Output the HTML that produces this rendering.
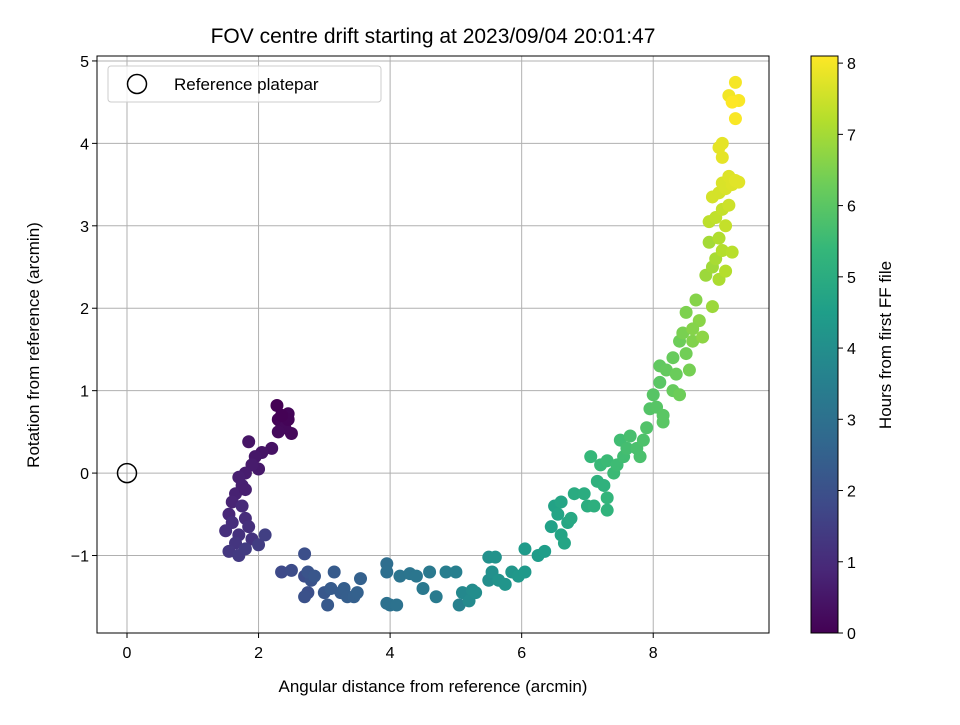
<!DOCTYPE html>
<html><head><meta charset="utf-8"><style>
body{margin:0;background:#fff}
svg{font-family:"Liberation Sans","DejaVu Sans",sans-serif}
</style></head><body>
<svg id="c" width="960" height="720"></svg>
<script>
const xs=[2.28,2.3,2.45,2.35,2.5,2.4,2.3,2.45,2.35,
2.2,2.05,1.95,2.0,1.85,1.9,1.8,1.7,1.75,1.65,1.6,1.8,
1.55,1.75,1.8,1.6,1.5,1.7,1.85,1.9,1.65,1.55,1.7,1.8,2.0,2.1,
2.35,2.5,2.7,2.75,2.7,2.8,2.7,2.75,2.85,3.0,3.05,3.1,3.15,3.25,3.3,3.35,3.45,3.55,3.5,
3.95,3.95,4.0,3.95,4.1,4.15,4.3,4.4,4.5,4.6,4.7,4.85,5.0,5.05,
5.1,5.2,5.25,5.3,5.5,5.55,5.5,5.6,5.65,5.75,5.85,5.95,6.05,6.05,6.25,6.35,
6.45,6.5,6.55,6.6,6.6,6.65,6.7,6.75,6.8,6.95,7.0,7.1,7.15,7.25,7.3,7.3,
7.05,7.2,7.3,7.4,7.45,7.5,7.55,7.6,7.65,7.75,7.8,7.85,7.9,7.95,8.0,8.05,8.15,8.1,8.15,
8.1,8.2,8.3,8.3,8.35,8.4,8.4,8.5,8.55,8.45,8.5,8.6,8.65,8.7,8.6,8.75,
8.8,8.9,8.85,8.9,8.95,9.0,9.0,9.05,9.1,9.2,8.85,8.95,9.05,9.1,9.15,
8.9,9.0,9.05,9.1,9.15,9.2,9.25,9.3,9.0,9.05,9.05,9.15,9.25,9.3,9.25,9.2];
const ys=[0.82,0.65,0.72,0.6,0.48,0.55,0.5,0.65,0.7,
0.3,0.25,0.2,0.05,0.38,0.1,0.0,-0.05,-0.15,-0.25,-0.35,-0.2,
-0.5,-0.4,-0.55,-0.6,-0.7,-0.75,-0.65,-0.8,-0.85,-0.95,-1.0,-0.92,-0.87,-0.75,
-1.2,-1.18,-1.25,-1.45,-1.5,-1.3,-0.98,-1.2,-1.25,-1.45,-1.6,-1.4,-1.2,-1.45,-1.4,-1.5,-1.5,-1.28,-1.45,
-1.1,-1.2,-1.6,-1.58,-1.6,-1.25,-1.22,-1.25,-1.4,-1.2,-1.5,-1.2,-1.2,-1.6,
-1.45,-1.55,-1.42,-1.45,-1.3,-1.2,-1.02,-1.02,-1.3,-1.35,-1.2,-1.25,-1.2,-0.92,-1.0,-0.95,
-0.65,-0.4,-0.5,-0.35,-0.75,-0.85,-0.6,-0.55,-0.25,-0.25,-0.4,-0.4,-0.1,-0.15,-0.45,-0.3,
0.2,0.1,0.15,0.0,0.1,0.4,0.2,0.3,0.45,0.3,0.2,0.4,0.55,0.78,0.95,0.8,0.7,1.1,0.62,
1.3,1.25,1.4,1.0,1.2,1.6,0.95,1.45,1.25,1.7,1.95,1.6,2.1,1.85,1.75,1.65,
2.4,2.5,2.8,2.02,2.6,2.35,2.85,2.7,2.45,2.68,3.05,3.1,3.2,3.0,3.25,
3.35,3.4,3.52,3.45,3.6,3.5,3.55,3.53,3.95,4.0,3.83,4.58,4.74,4.52,4.3,4.5];
const ts=[0.0,0.05,0.1,0.12,0.15,0.18,0.2,0.08,0.03,
0.4,0.45,0.5,0.55,0.45,0.6,0.65,0.7,0.72,0.75,0.8,0.7,
0.9,0.95,1.0,1.05,1.1,1.15,1.1,1.2,1.25,1.3,1.35,1.4,1.45,1.5,
1.8,1.85,1.9,1.95,2.0,2.05,1.95,2.1,2.15,2.2,2.25,2.3,2.3,2.35,2.4,2.4,2.45,2.5,2.5,
2.9,2.95,3.0,3.0,3.05,3.1,3.15,3.2,3.25,3.3,3.35,3.45,3.5,3.55,
3.8,3.85,3.9,3.95,4.0,4.05,4.05,4.1,4.15,4.2,4.25,4.3,4.35,4.4,4.45,4.5,
4.6,4.65,4.7,4.75,4.7,4.75,4.8,4.85,4.95,5.0,5.05,5.1,5.15,5.2,5.25,5.3,
5.4,5.45,5.5,5.5,5.55,5.6,5.6,5.65,5.7,5.75,5.75,5.8,5.85,5.9,5.95,5.95,6.0,6.0,6.0,
6.1,6.15,6.2,6.2,6.25,6.3,6.3,6.35,6.4,6.45,6.5,6.55,6.6,6.65,6.6,6.7,
6.9,6.95,7.0,6.9,7.05,7.1,7.15,7.2,7.2,7.25,7.3,7.35,7.4,7.4,7.5,
7.6,7.6,7.65,7.65,7.7,7.7,7.75,7.75,7.8,7.8,7.8,7.95,8.0,8.05,8.05,8.1];
const xTicks=[0,2,4,6,8], yTicks=[-1,0,1,2,3,4,5], cTicks=[0,1,2,3,4,5,6,7,8];
const L=97,R=769,T=56,B=633,xMin=-0.456,xMax=9.76,yMin=-1.94,yMax=5.06,cMax=8.1;
const sx=v=>L+(v-xMin)/(xMax-xMin)*(R-L), sy=v=>B-(v-yMin)/(yMax-yMin)*(B-T), sc=v=>B-v/cMax*(B-T);
const vir=[[68,1,84],[72,40,120],[62,74,137],[49,104,142],[38,130,142],[31,158,137],[53,183,121],[109,205,89],[180,222,44],[253,231,37]];
function col(t){let f=Math.max(0,Math.min(1,t/cMax))*(vir.length-1),i=Math.min(vir.length-2,Math.floor(f)),r=f-i;
return 'rgb('+vir[i].map((c,k)=>Math.round(c+(vir[i+1][k]-c)*r)).join(',')+')';}
const svg=document.getElementById('c'),NS='http://www.w3.org/2000/svg';
function el(tag,at,txt){const e=document.createElementNS(NS,tag);for(const k in at)e.setAttribute(k,at[k]);if(txt!==undefined)e.textContent=txt;svg.appendChild(e);return e;}
let e;
e=el('text',{x:433,y:43,'font-size':21,'text-anchor':'middle'},'FOV centre drift starting at 2023/09/04 20:01:47');


xTicks.forEach(v=>{
 e=el('line',{x1:sx(v),x2:sx(v),y1:T,y2:B,stroke:'#b0b0b0','stroke-width':1});
 
 
 el('line',{x1:sx(v),x2:sx(v),y1:B,y2:B+5,stroke:'#000'});
 e=el('text',{x:sx(v),y:B+25,'font-size':16,'text-anchor':'middle'},String(v));
 
 
});
yTicks.forEach(v=>{
 e=el('line',{x1:L,x2:R,y1:sy(v),y2:sy(v),stroke:'#b0b0b0','stroke-width':1});
 
 
 el('line',{x1:L-5,x2:L,y1:sy(v),y2:sy(v),stroke:'#000'});
 e=el('text',{x:L-8,y:sy(v)+6,'font-size':16,'text-anchor':'end'},v<0?'\u2212'+(-v):String(v));
 
 
});
xs.forEach((x,i)=>{
 e=el('circle',{cx:sx(x),cy:sy(ys[i]),r:6.5,fill:col(ts[i])});
 
 
});
e=el('circle',{cx:sx(0),cy:sy(0),r:9.5,fill:'none',stroke:'#000','stroke-width':1.5});


e=el('rect',{x:L,y:T,width:R-L,height:B-T,fill:'none',stroke:'#000','stroke-width':1});


e=el('rect',{x:108,y:66,width:273,height:36,rx:3,fill:'#fff','fill-opacity':0.8,stroke:'#ccc'});


el('circle',{cx:137,cy:84,r:9.5,fill:'none',stroke:'#000','stroke-width':1.5});
e=el('text',{x:174,y:90,'font-size':17},'Reference platepar');


e=el('text',{x:433,y:692,'font-size':17,'text-anchor':'middle'},'Angular distance from reference (arcmin)');


e=el('text',{x:39,y:345,'font-size':17,'text-anchor':'middle',transform:'rotate(-90 39 345)'},'Rotation from reference (arcmin)');


const defs=el('defs',{});const g=document.createElementNS(NS,'linearGradient');
g.setAttribute('id','vg');g.setAttribute('x1','0');g.setAttribute('y1','1');g.setAttribute('x2','0');g.setAttribute('y2','0');
vir.forEach((c,i)=>{const s=document.createElementNS(NS,'stop');s.setAttribute('offset',i/(vir.length-1));s.setAttribute('stop-color','rgb('+c.join(',')+')');g.appendChild(s);});
defs.appendChild(g);
e=el('rect',{x:811,y:T,width:27,height:B-T,fill:'url(#vg)',stroke:'#000','stroke-width':1});


cTicks.forEach(v=>{
 el('line',{x1:838,x2:843,y1:sc(v),y2:sc(v),stroke:'#000'});
 e=el('text',{x:847,y:sc(v)+6,'font-size':16},String(v));
 
 
});
e=el('text',{x:891,y:345,'font-size':17,'text-anchor':'middle',transform:'rotate(-90 891 345)'},'Hours from first FF file');


</script>
</body></html>
